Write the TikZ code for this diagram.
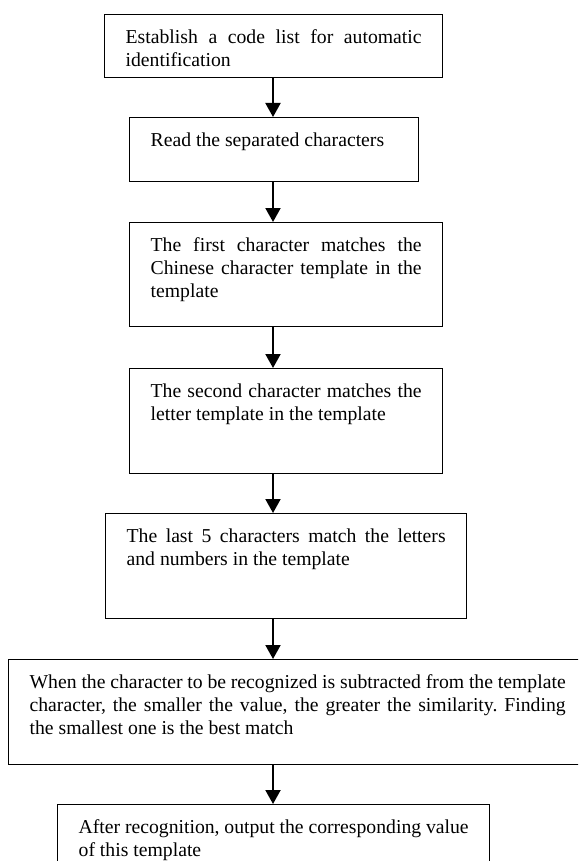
\documentclass[tikz,border=0pt]{standalone}
\usepackage{fontspec}
\setmainfont{Liberation Serif}
\usetikzlibrary{arrows.meta}
\frenchspacing

\begin{document}
\begin{tikzpicture}[x=1pt, y=1pt,
  flowbox/.style={draw, line width=1.3pt, anchor=north west, align=justify,
    inner xsep=21pt, inner ysep=15pt, text height=14pt,
    font=\fontsize{19.7}{23}\selectfont},
  flowarrow/.style={-{Triangle[width=15pt, length=14pt]}, line width=2pt}]
  \clip (0,0) rectangle (578,-861);

  % Steps, top to bottom
  \node[flowbox, text width=296pt, text depth=19pt] (codelist) at (104,-14) {
    Establish a code list for automatic\linebreak identification
  };
  \node[flowbox, text width=247pt, text depth=20pt] (readchars) at (129,-117) {
    Read the separated characters
  };
  \node[flowbox, text width=271pt, text depth=60pt] (firstchar) at (129,-222) {
    The first character matches the\linebreak Chinese character template in the\linebreak template
  };
  \node[flowbox, text width=271pt, text depth=61pt] (secondchar) at (129,-368) {
    The second character matches the\linebreak letter template in the template
  };
  \node[flowbox, text width=319pt, text depth=61pt] (lastchars) at (105,-513) {
    The last 5 characters match the letters\linebreak and numbers in the template
  };
  \node[flowbox, text width=536pt, text depth=61pt] (subtract) at (8,-659) {
    When the character to be recognized is subtracted from the template\linebreak
    character, the smaller the value, the greater the similarity. Finding\linebreak
    the smallest one is the best match
  };
  \node[flowbox, text width=390pt, text depth=36pt] (output) at (57,-804) {
    After recognition, output the corresponding value\linebreak of this template
  };

  % Arrows all run down one vertical line
  \coordinate (axis) at (273,0);
  \foreach \from/\to in {codelist/readchars, readchars/firstchar, firstchar/secondchar,
      secondchar/lastchars, lastchars/subtract, subtract/output}
    \draw[flowarrow] (\from.south -| axis) -- (\to.north -| axis);
\end{tikzpicture}
\end{document}
